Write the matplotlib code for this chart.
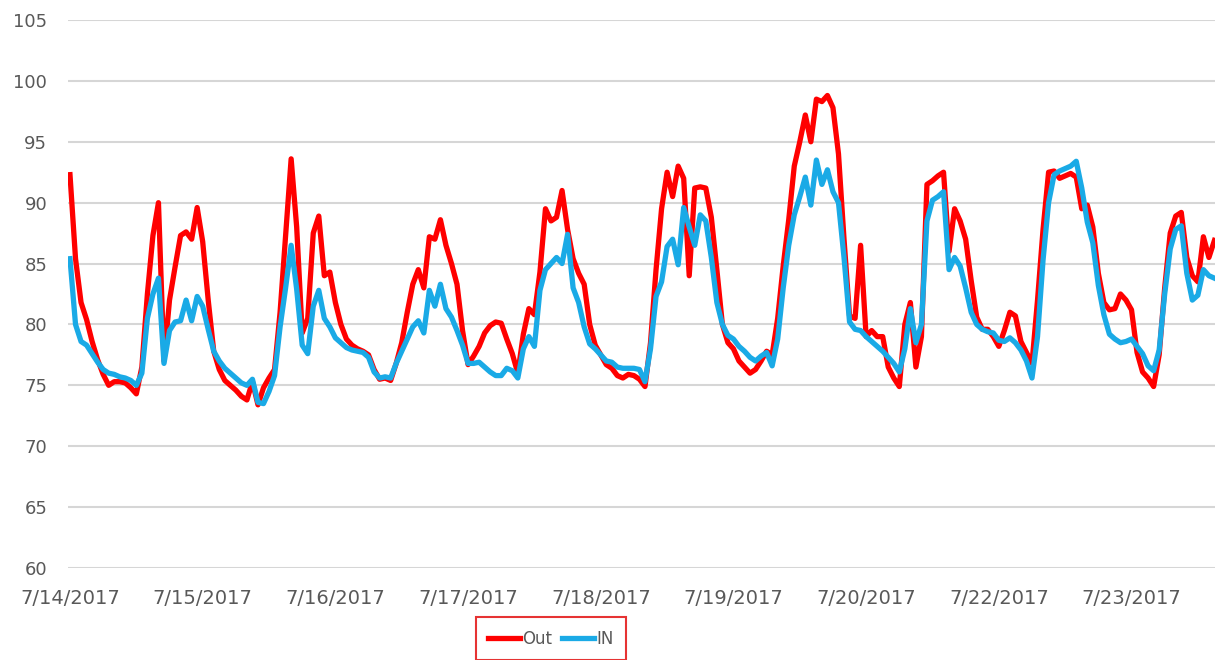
import matplotlib.pyplot as plt

# readings, one every hour-ish step, 24 steps between date labels
out_temp = [
    92.3, 85.4, 81.8, 80.4, 78.6, 77.1, 75.9, 75.0, 75.3, 75.3, 75.2, 74.8,
    74.3, 76.5, 82.5, 87.3, 90.0, 77.0, 82.0, 84.7, 87.3, 87.6, 87.0, 89.6,
    86.8, 82.0, 77.8, 76.3, 75.4, 75.0, 74.6, 74.1, 73.8, 75.3, 73.4, 74.8,
    75.6, 76.3, 81.0, 87.3, 93.6, 88.0, 79.3, 80.5, 87.5, 88.9, 84.0, 84.3,
    81.8, 80.0, 78.8, 78.3, 78.0, 77.8, 77.5, 76.3, 75.5, 75.6, 75.4, 76.8,
    78.5, 81.0, 83.3, 84.5, 83.0, 87.2, 87.0, 88.6, 86.5, 85.0, 83.3, 79.5,
    76.7, 77.4, 78.2, 79.3, 79.9, 80.2, 80.1, 78.8, 77.6, 76.0, 79.2, 81.3,
    80.8, 84.3, 89.5, 88.5, 88.8, 91.0, 87.8, 85.4, 84.2, 83.3, 80.0, 78.3,
    77.5, 76.7, 76.4, 75.8, 75.6, 75.9, 75.8, 75.5, 74.9, 78.5, 84.5, 89.5,
    92.5, 90.5, 93.0, 92.0, 84.0, 91.2, 91.3, 91.2, 88.8, 84.5, 80.0, 78.5,
    78.0, 77.0, 76.5, 76.0, 76.3, 77.0, 77.8, 77.5, 80.5, 84.8, 88.6, 93.0,
    95.0, 97.2, 95.0, 98.5, 98.3, 98.8, 97.8, 94.0, 87.0, 80.7, 80.5, 86.5,
    79.0, 79.5, 79.0, 79.0, 76.5, 75.6, 74.9, 80.0, 81.8, 76.5, 79.0, 91.5,
    91.8, 92.2, 92.5, 86.0, 89.5, 88.5, 87.0, 83.6, 80.6, 79.6, 79.6, 79.0,
    78.2, 79.5, 81.0, 80.7, 78.6, 77.7, 76.8, 82.0, 87.8, 92.5, 92.6, 92.0,
    92.2, 92.4, 92.1, 89.5, 89.8, 88.0, 84.2, 81.8, 81.2, 81.3, 82.5, 82.0,
    81.2, 77.7, 76.1, 75.6, 74.9, 77.5, 83.0, 87.5, 88.9, 89.2, 85.5, 84.0,
    83.5, 87.2, 85.5, 86.9,
]
in_temp = [
    85.4, 80.0, 78.6, 78.3, 77.6, 76.9, 76.3, 76.0, 75.9, 75.7, 75.6, 75.4,
    75.0, 76.0, 80.5, 82.5, 83.8, 76.8, 79.5, 80.2, 80.3, 82.0, 80.3, 82.3,
    81.5, 79.6, 77.8, 77.0, 76.4, 76.0, 75.6, 75.2, 75.0, 75.5, 73.6, 73.5,
    74.5, 75.8, 79.8, 83.0, 86.5, 82.9, 78.3, 77.6, 81.5, 82.8, 80.5, 79.8,
    78.9, 78.5, 78.1, 77.9, 77.8, 77.7, 77.3, 76.1, 75.6, 75.7, 75.6, 76.8,
    77.8, 78.8, 79.8, 80.3, 79.3, 82.8, 81.5, 83.3, 81.3, 80.6, 79.5, 78.3,
    76.8, 76.8, 76.9, 76.5, 76.1, 75.8, 75.8, 76.4, 76.2, 75.6, 78.0, 79.0,
    78.2, 82.8, 84.5, 85.0, 85.5, 85.0, 87.4, 83.0, 81.8, 79.8, 78.4, 78.0,
    77.5, 77.0, 76.9, 76.5, 76.4, 76.4, 76.4, 76.3, 75.3, 78.0, 82.3, 83.5,
    86.4, 87.0, 84.9, 89.6, 88.0, 86.5, 89.0, 88.5, 85.5, 81.8, 80.0, 79.1,
    78.8, 78.2, 77.8, 77.3, 77.0, 77.4, 77.7, 76.6, 78.8, 83.0, 86.5, 89.0,
    90.5, 92.1, 89.8, 93.5, 91.5, 92.7, 90.9, 90.0, 85.5, 80.2, 79.6, 79.5,
    79.0, 78.6, 78.2, 77.8, 77.3, 76.8, 76.1, 78.0, 81.3, 78.5, 80.0, 88.5,
    90.2, 90.5, 90.9, 84.5, 85.5, 84.8, 83.0, 81.0, 80.0, 79.6, 79.4, 79.3,
    78.7, 78.6, 78.9, 78.5, 77.9, 77.0, 75.6, 79.0, 85.3, 90.0, 92.3, 92.6,
    92.8, 93.0, 93.4, 91.2, 88.4, 86.7, 83.2, 80.8, 79.2, 78.8, 78.5, 78.6,
    78.8, 78.2, 77.6, 76.6, 76.2, 77.9, 82.5, 86.2, 87.8, 88.1, 84.2, 82.0,
    82.4, 84.5, 84.0, 83.8,
]
date_labels = ['7/14/2017', '7/15/2017', '7/16/2017', '7/17/2017', '7/18/2017',
               '7/19/2017', '7/20/2017', '7/22/2017', '7/23/2017']
label_step = 24

text_gray = '#595959'

fig = plt.figure(figsize=(12.15, 6.6), dpi=100)
ax = fig.add_axes([68 / 1215, 1 - 568 / 660, 1 - 68 / 1215, (568 - 20) / 660])

x = list(range(len(out_temp)))
ax.plot(x, out_temp, color='#ff0000', linewidth=3.8, solid_joinstyle='round',
        label='Out', zorder=3)
ax.plot(x, in_temp, color='#1aaae6', linewidth=3.8, solid_joinstyle='round',
        label='IN', zorder=4)

ax.set_ylim(60, 105)
ax.set_yticks(range(60, 106, 5))
ax.set_xlim(-0.36, 207.1)
ax.set_xticks(range(0, label_step * len(date_labels), label_step))
ax.set_xticklabels(date_labels)

ax.grid(axis='y', color='#d6d6d6', linewidth=1.5)
ax.set_axisbelow(True)
for side in ['top', 'right', 'bottom', 'left']:
    ax.spines[side].set_visible(False)
ax.tick_params(axis='both', length=0, colors=text_gray)
ax.tick_params(axis='y', labelsize=13, pad=15)
ax.tick_params(axis='x', labelsize=14, pad=15)

leg = fig.legend(loc='upper center', bbox_to_anchor=(551 / 1215, 1 - 617 / 660),
                 ncol=2, frameon=True, fancybox=False, fontsize=12,
                 handlelength=1.9, handletextpad=0.15, columnspacing=0.6,
                 borderpad=0.75, borderaxespad=0)
leg.get_frame().set_edgecolor('#e00000')
leg.get_frame().set_linewidth(1.5)
for txt in leg.get_texts():
    txt.set_color(text_gray)

plt.savefig('out.png', dpi=100)
plt.close()
